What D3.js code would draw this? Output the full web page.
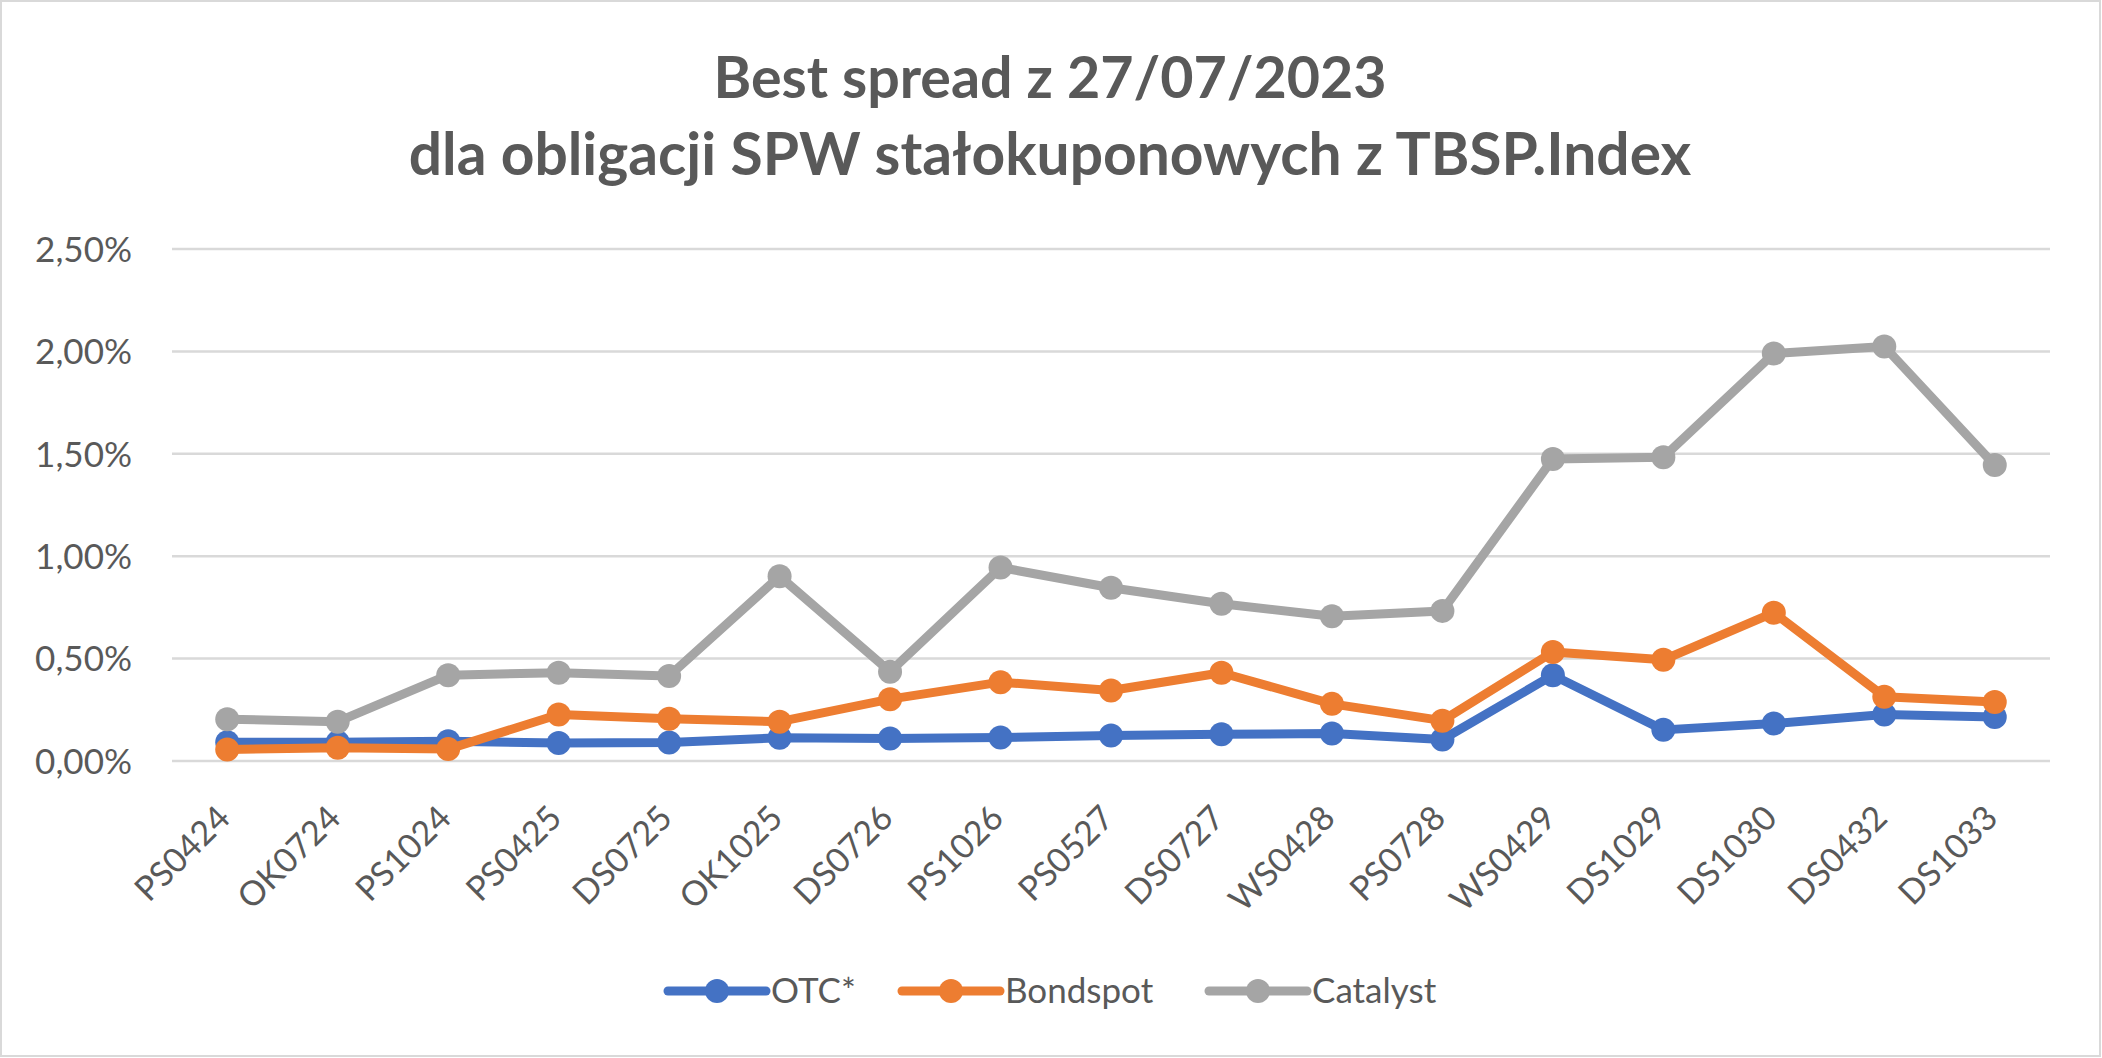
<!DOCTYPE html>
<html><head><meta charset="utf-8">
<script src="https://cdn.jsdelivr.net/npm/d3@7"></script>
<style>html,body{margin:0;padding:0;background:#fff;}svg{display:block;}</style>
</head><body>
<svg id="chart" width="2102" height="1058"></svg>
<script>
const categories = ["PS0424","OK0724","PS1024","PS0425","DS0725","OK1025","DS0726","PS1026","PS0527","DS0727","WS0428","PS0728","WS0429","DS1029","DS1030","DS0432","DS1033"];
const otc =      [0.092,0.092,0.096,0.088,0.090,0.113,0.110,0.115,0.124,0.131,0.134,0.105,0.419,0.152,0.183,0.227,0.215];
const bondspot = [0.056,0.065,0.058,0.227,0.206,0.192,0.302,0.385,0.344,0.431,0.279,0.197,0.532,0.494,0.724,0.314,0.288];
const catalyst = [0.204,0.192,0.419,0.431,0.415,0.902,0.436,0.945,0.846,0.768,0.707,0.733,1.475,1.483,1.990,2.024,1.445];
const yTicks = [0, 0.5, 1.0, 1.5, 2.0, 2.5];
const seriesNames = ["OTC*","Bondspot","Catalyst"];
const seriesColors = ["#4472C4","#ED7D31","#A5A5A5"];
const titleLines = ["Best spread z 27/07/2023","dla obligacji SPW stałokuponowych z TBSP.Index"];

const FONT = "Lato, 'Open Sans', sans-serif";
const TXT = "#595959";
const svg = d3.select("#chart");
svg.append("rect").attr("x",1).attr("y",1).attr("width",2099).attr("height",1055)
  .attr("fill","#fff").attr("stroke","#d9d9d9").attr("stroke-width",2);

// title
const titleBase = [98, 175];
const titleTarget = [673, 1283];
titleLines.forEach((t,i)=>{
  const el = svg.append("text").attr("x",1050).attr("y",titleBase[i]).attr("text-anchor","middle")
    .attr("font-family",FONT).attr("font-weight","bold").attr("fill",TXT).attr("font-size",50).text(t);
  const w = el.node().getComputedTextLength();
  el.attr("font-size", 50*titleTarget[i]/w);
});

const x = d3.scaleBand().domain(categories).range([172,2050]);
const cx = d => x(d) + x.bandwidth()/2;
const y = d3.scaleLinear().domain([0,2.5]).range([761,249]);
const loc = d3.formatLocale({decimal:",", thousands:" ", grouping:[3], currency:["","zł"]});
const fmt = v => loc.format(".2f")(v) + "%";

// grid
svg.append("g").selectAll("line").data(yTicks).join("line")
  .attr("x1",172).attr("x2",2050).attr("y1",d=>y(d)).attr("y2",d=>y(d))
  .attr("stroke","#d9d9d9").attr("stroke-width",2.5);

// y axis
const yAxis = d3.axisLeft(y).tickValues(yTicks).tickFormat(fmt).tickSize(0).tickPadding(0);
const gy = svg.append("g").attr("transform","translate(132,0)").call(yAxis);
gy.select(".domain").remove();
gy.selectAll("text").attr("font-family",FONT).attr("font-size",35).attr("fill",TXT).attr("dy","0.35em");

// x axis
const xAxis = d3.axisBottom(x).tickSize(0).tickPadding(0);
const gx = svg.append("g").attr("transform","translate(0,0)").call(xAxis);
gx.select(".domain").remove();
gx.selectAll("text").attr("font-family",FONT).attr("font-size",34).attr("fill",TXT)
  .attr("text-anchor","end").attr("dy","0").attr("y",0).attr("x",0)
  .attr("transform","translate(5,820) rotate(-45)");

// series
const allSeries = [otc, bondspot, catalyst];
const line = d3.line().x((d,i)=>cx(categories[i])).y(d=>y(d));
allSeries.forEach((vals,si)=>{
  const g = svg.append("g");
  g.append("path").datum(vals).attr("d",line).attr("fill","none")
    .attr("stroke",seriesColors[si]).attr("stroke-width",9).attr("stroke-linejoin","round");
  g.selectAll("circle").data(vals).join("circle")
    .attr("cx",(d,i)=>cx(categories[i])).attr("cy",d=>y(d)).attr("r",12)
    .attr("fill",seriesColors[si]);
});

// legend
const legX = [668, 902, 1209];
const legY = 991;
seriesNames.forEach((n,i)=>{
  const g = svg.append("g");
  g.append("line").attr("x1",legX[i]).attr("x2",legX[i]+98).attr("y1",legY).attr("y2",legY)
    .attr("stroke",seriesColors[i]).attr("stroke-width",9).attr("stroke-linecap","round");
  g.append("circle").attr("cx",legX[i]+49).attr("cy",legY).attr("r",12).attr("fill",seriesColors[i]);
  g.append("text").attr("x",legX[i]+103).attr("y",legY).attr("dy","0.35em")
    .attr("font-family",FONT).attr("font-size",35).attr("fill",TXT).text(n);
});
</script>
</body></html>
